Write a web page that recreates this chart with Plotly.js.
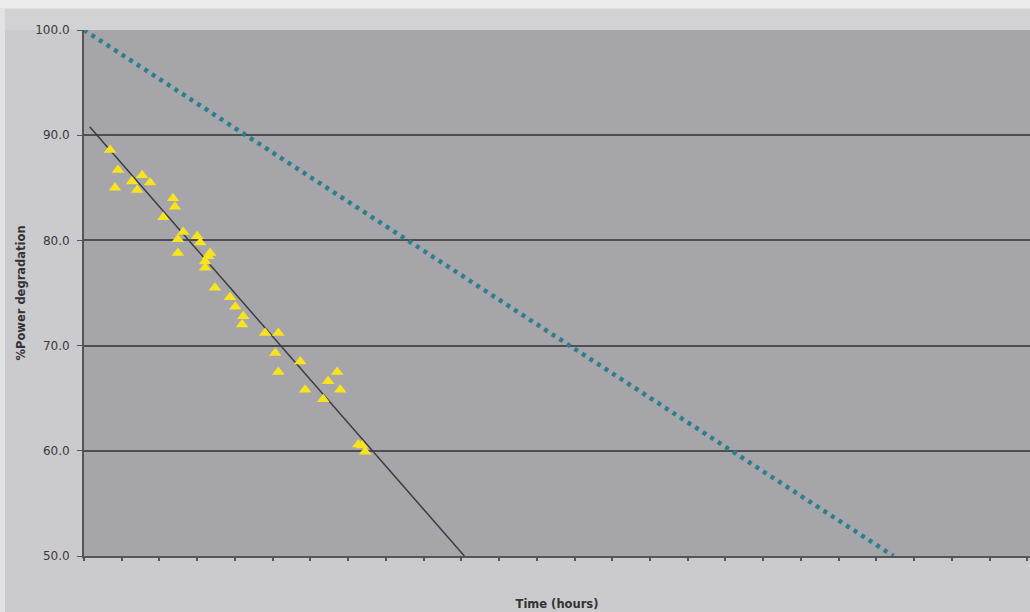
<!DOCTYPE html>
<html>
<head>
<meta charset="utf-8">
<script src="https://cdn.plot.ly/plotly-3.0.1.min.js"></script>
<style>html,body{margin:0;padding:0;background:#cbcacf;}#chart{width:1030px;height:612px;}</style>
</head>
<body>
<div id="chart"></div>
<script>
// Measured data (time in hours, % power)
const measTime = [0.69,0.90,0.82,1.27,1.54,1.75,1.41,2.36,2.41,2.10,2.63,3.00,2.49,2.49,3.34,3.21,3.21,3.08,3.29,3.47,3.87,4.01,4.22,4.19,4.80,5.15,5.07,5.73,5.15,5.86,6.47,6.71,6.79,6.34,7.27,7.37,7.45];
const measPower = [88.6,86.7,85.0,85.6,86.2,85.5,84.8,84.0,83.2,82.2,80.8,80.4,80.1,78.8,78.8,78.0,77.4,79.8,78.5,75.5,74.6,73.7,72.8,72.0,71.2,71.2,69.3,68.5,67.5,65.8,66.6,67.5,65.8,64.9,60.6,60.5,59.9];
// Linear fit of measured data
const fitTime = [0.15, 10.08];
const fitPower = [90.8, 50.0];
// Reference degradation line
const refTime = [0, 21.45];
const refPower = [100, 50];
const yTicks = [50, 60, 70, 80, 90, 100];
const yTickText = ["50.0","60.0","70.0","80.0","90.0","100.0"];

const traces = [
  {x: refTime, y: refPower, mode: 'lines', line: {color: '#2e7f8e', width: 4.5, dash: '4px,5px'}, hoverinfo: 'skip'},
  {x: fitTime, y: fitPower, mode: 'lines', line: {color: '#3c3c44', width: 1.5}, hoverinfo: 'skip'},
  {x: measTime, y: measPower, mode: 'markers', marker: {symbol: 'triangle-up', size: 11, color: '#f7e41c'}}
];

const layout = {
  width: 1030, height: 612,
  margin: {l: 84, r: 0, t: 30, b: 56},
  paper_bgcolor: '#cbcacf',
  plot_bgcolor: '#a6a5aa',
  showlegend: false,
  font: {family: 'DejaVu Sans, Verdana, sans-serif', color: '#3a3a3a'},
  xaxis: {
    range: [0, 25.07], dtick: 1, tick0: 0, showticklabels: false,
    ticks: 'outside', ticklen: 3, tickwidth: 2, tickcolor: '#555',
    showgrid: false, zeroline: false,
    showline: true, linecolor: '#555', linewidth: 2,
    title: {text: '<b>Time (hours)</b>', font: {size: 11.5, color: '#333'}, standoff: 40}
  },
  yaxis: {
    range: [50, 100], tickvals: yTicks, ticktext: yTickText,
    ticks: 'outside', ticklen: 5, tickwidth: 1, tickcolor: '#555',
    ticklabelstandoff: 5,
    tickfont: {size: 12, color: '#3a3a3a'},
    showgrid: true, gridcolor: '#4e4e52', gridwidth: 2,
    zeroline: false, showline: true, linecolor: '#555', linewidth: 2,
    title: {text: '<b>%Power degradation</b>', font: {size: 11.5, color: '#333'}, standoff: 7}
  },
  shapes: [
    {type: 'rect', xref: 'paper', yref: 'paper', x0: -0.1, x1: 1.01, y0: 1.0, y1: 1.06, fillcolor: '#d2d1d5', line: {width: 0}, layer: 'below'},
    {type: 'rect', xref: 'paper', yref: 'paper', x0: -0.1, x1: 1.01, y0: 1.041, y1: 1.06, fillcolor: '#ebebec', line: {width: 0}, layer: 'below'},
    {type: 'rect', xref: 'paper', yref: 'paper', x0: -0.0888, x1: -0.0835, y0: -0.11, y1: 1.041, fillcolor: '#e2e2e4', line: {width: 0}, layer: 'below'}
  ]
};

Plotly.newPlot('chart', traces, layout, {displayModeBar: false, staticPlot: true});
</script>
</body>
</html>
